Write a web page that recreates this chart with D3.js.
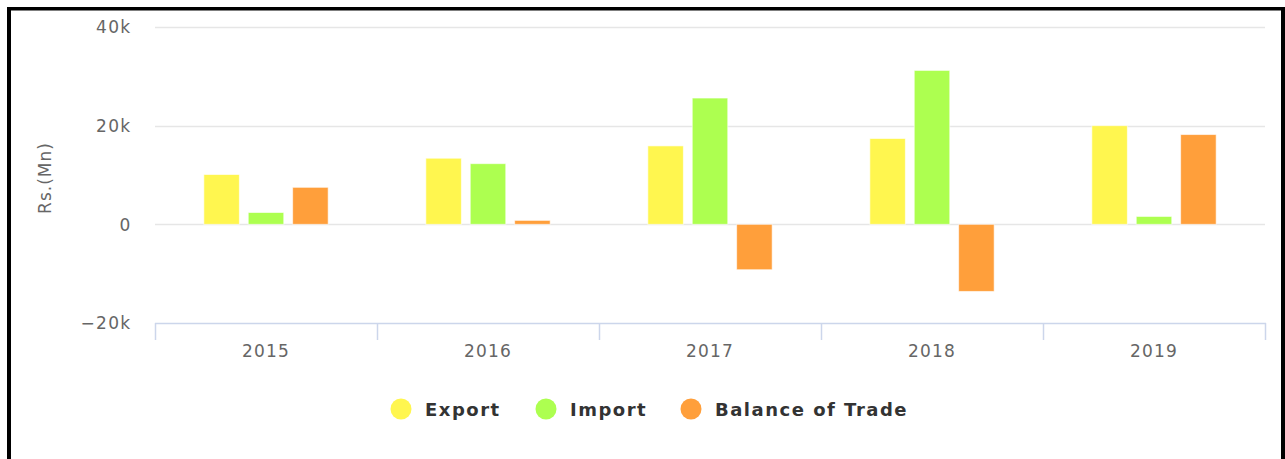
<!DOCTYPE html>
<html>
<head>
<meta charset="utf-8">
<script src="https://cdn.jsdelivr.net/npm/d3@7"></script>
<style>
  html, body { margin: 0; padding: 0; background: #fff; }
  svg { display: block; }
</style>
</head>
<body>
<svg id="chart" width="1285" height="459"></svg>
<script>
const categories = ["2015", "2016", "2017", "2018", "2019"];
const seriesNames = ["Export", "Import", "Balance of Trade"];
const exportValues = [10100, 13400, 15900, 17400, 20000];
const importValues = [2400, 12300, 25600, 31200, 1600];
const balanceValues = [7500, 800, -9200, -13600, 18200];
const seriesColors = ["#fff64f", "#adff50", "#ff9f3b"];
const yTicks = [-20000, 0, 20000, 40000];
const yTickLabels = ["−20k", "0", "20k", "40k"];
const yTitle = "Rs.(Mn)";

const seriesValues = [exportValues, importValues, balanceValues];

(function () {
const svg = d3.select("#chart");
const W = 1285, H = 459;
const pLeft = 155, pRight = 1265, pTop = 27, pBottom = 323;

svg.append("rect").attr("width", W).attr("height", H).attr("fill", "#fff");

const x = d3.scaleBand().domain(categories).range([pLeft, pRight]).paddingInner(0).paddingOuter(0);
const bw = x.bandwidth();
const xs = d3.scaleBand().domain(seriesNames).range([bw * 0.2, bw * 0.8]).paddingInner(0.2).paddingOuter(0.1);
const y = d3.scaleLinear().domain([-20000, 40000]).range([pBottom, pTop]);

const font = "'DejaVu Sans', Verdana, sans-serif";

// gridlines
svg.append("g").selectAll("line").data(yTicks.filter(v => v !== -20000)).join("line")
  .attr("x1", pLeft).attr("x2", pRight)
  .attr("y1", d => Math.round(y(d)) + 0.5).attr("y2", d => Math.round(y(d)) + 0.5)
  .attr("stroke", "#e6e6e6").attr("stroke-width", 1.5);

// y axis labels
const yAxis = d3.axisLeft(y).tickValues(yTicks).tickSize(0).tickPadding(0)
  .tickFormat(d => yTickLabels[yTicks.indexOf(d)]);
const yG = svg.append("g").attr("transform", "translate(131.5,0)").call(yAxis);
yG.select(".domain").remove();
yG.selectAll("text").attr("fill", "#666").attr("font-family", font).attr("font-size", 17)
  .attr("letter-spacing", 1.3).attr("dy", "0.35em");

// y title
svg.append("text")
  .attr("transform", "translate(51,178) rotate(-90)")
  .attr("text-anchor", "middle")
  .attr("fill", "#666").attr("font-family", font).attr("font-size", 17)
  .attr("letter-spacing", 1)
  .text(yTitle);

// x axis
const xAxis = d3.axisBottom(x).tickSize(0).tickPadding(0);
const xG = svg.append("g").attr("transform", `translate(0,${pBottom})`).call(xAxis);
xG.select(".domain").remove();
xG.selectAll("text").attr("fill", "#666").attr("font-family", font).attr("font-size", 17)
  .attr("letter-spacing", 1.2).attr("y", 34).attr("dy", 0);
svg.append("line").attr("x1", pLeft).attr("x2", pRight + 1)
  .attr("y1", pBottom + 0.5).attr("y2", pBottom + 0.5)
  .attr("stroke", "#ccd6eb").attr("stroke-width", 1.5);
const boundaries = categories.map(c => x(c)).concat([pRight]);
svg.append("g").selectAll("line").data(boundaries).join("line")
  .attr("x1", d => Math.round(d) + 0.5).attr("x2", d => Math.round(d) + 0.5)
  .attr("y1", pBottom).attr("y2", pBottom + 17)
  .attr("stroke", "#ccd6eb").attr("stroke-width", 1.5);

// bars
seriesNames.forEach((name, si) => {
  svg.append("g").selectAll("rect").data(seriesValues[si]).join("rect")
    .attr("x", (d, i) => x(categories[i]) + xs(name))
    .attr("width", xs.bandwidth())
    .attr("y", d => y(Math.max(0, d)))
    .attr("height", d => Math.abs(y(d) - y(0)))
    .attr("fill", seriesColors[si])
    .attr("stroke", "#fff").attr("stroke-opacity", 0.6).attr("stroke-width", 1);
});

// legend
const legendItems = [
  { name: seriesNames[0], cx: 401, tx: 425 },
  { name: seriesNames[1], cx: 546, tx: 570 },
  { name: seriesNames[2], cx: 691, tx: 715 }
];
const lg = svg.append("g");
legendItems.forEach((it, i) => {
  lg.append("circle").attr("cx", it.cx).attr("cy", 409).attr("r", 10.5).attr("fill", seriesColors[i]);
  lg.append("text").attr("x", it.tx).attr("y", 415.5)
    .attr("font-family", font).attr("font-weight", "bold").attr("font-size", 18)
    .attr("letter-spacing", 1.5)
    .attr("fill", "#333").text(it.name);
});

// frame
svg.append("rect").attr("x", 7).attr("y", 7).attr("width", 4).attr("height", H - 7).attr("fill", "#000");
svg.append("rect").attr("x", 7).attr("y", 7).attr("width", W - 7).attr("height", 3.5).attr("fill", "#000");
svg.append("rect").attr("x", 1281).attr("y", 7).attr("width", 4).attr("height", H - 7).attr("fill", "#000");
})();
</script>
</body>
</html>
